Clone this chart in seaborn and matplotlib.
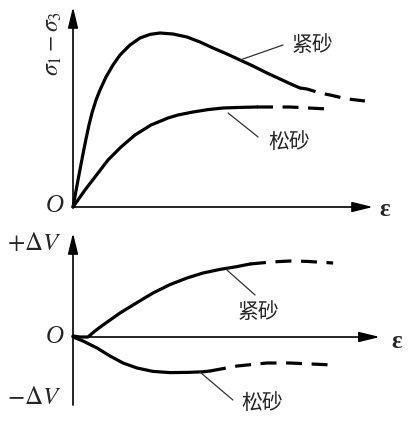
import pandas as pd
import seaborn as sns
import matplotlib
matplotlib.use("Agg")
import matplotlib.pyplot as plt

# strain axis (arbitrary units)
# top panel: deviator stress sigma1 - sigma3
dense_q_eps = [0, 0.167, 0.333, 0.433, 0.533, 0.633, 0.767, 0.9, 1.1, 1.333,
               1.567, 1.9, 2.233, 2.567, 2.9, 3.333, 3.8, 4.233, 4.667, 5.133,
               5.567, 6.0, 6.467, 6.9, 7.333, 7.567]
dense_q = [0, 1.35, 2.65, 3.4, 4.1, 4.7, 5.35, 5.85, 6.5, 7.1,
           7.6, 8.1, 8.45, 8.63, 8.7, 8.65, 8.5, 8.25, 7.95, 7.65,
           7.35, 7.05, 6.7, 6.4, 6.1, 5.95]
dense_q_eps_dash = [7.567, 7.8, 8.23, 8.57, 9.0, 9.17, 9.73]
dense_q_dash = [5.95, 5.9, 5.7, 5.6, 5.45, 5.4, 5.3]

loose_q_eps = [0, 0.4, 0.733, 1.167, 1.6, 2.067, 2.6, 3.167, 3.5, 4.0,
               4.5, 5.0, 5.567, 6.133]
loose_q = [0, 0.85, 1.5, 2.35, 3.0, 3.6, 4.1, 4.45, 4.6, 4.75,
           4.87, 4.95, 4.98, 5.0]
loose_q_eps_dash = [6.133, 7.23, 8.5]
loose_q_dash = [5.0, 5.0, 4.9]

# bottom panel: volume change
dense_v_eps = [0, 0.233, 0.5, 0.733, 1.0, 1.567, 2.133, 2.667, 3.233, 3.8,
               4.333, 4.9, 5.467, 5.9]
dense_v = [0.05, 0, 0, 0.3, 0.6, 1.2, 1.72, 2.2, 2.62, 2.95,
           3.2, 3.38, 3.52, 3.65]
dense_v_eps_dash = [5.9, 6.6, 7.23, 7.8, 8.67]
dense_v_dash = [3.65, 3.75, 3.8, 3.78, 3.7]

loose_v_eps = [0, 0.333, 0.8, 1.233, 1.667, 2.133, 2.667, 3.233, 3.8, 4.333,
               4.567]
loose_v = [0, -0.2, -0.55, -0.95, -1.3, -1.55, -1.72, -1.78, -1.77, -1.74,
           -1.7]
loose_v_eps_dash = [4.567, 5.47, 6.47, 7.23, 8.67]
loose_v_dash = [-1.7, -1.45, -1.3, -1.3, -1.4]

DENSE = "紧砂"
LOOSE = "松砂"

sns.set_theme(style="white")
plt.rcParams["mathtext.fontset"] = "stix"
plt.rcParams["font.family"] = ["Noto Sans CJK SC", "DejaVu Sans"]

LW = 2.3
DASH = (0, (5, 3))
ARROW = dict(arrowstyle="-|>,head_length=0.9,head_width=0.22",
             lw=1.2, color="black", mutation_scale=14, shrinkA=0, shrinkB=0)
LEADER = dict(arrowstyle="-", lw=0.9, color="#333333", shrinkA=0, shrinkB=0)


def curve(ax, x, y, ls="-"):
    df = pd.DataFrame({"eps": x, "val": y})
    sns.lineplot(data=df, x="eps", y="val", ax=ax, color="black", lw=LW,
                 sort=False, estimator=None, linestyle=ls, clip_on=False,
                 solid_joinstyle="round", solid_capstyle="round")


def arrow(ax, start, end):
    ax.annotate("", xy=end, xytext=start, arrowprops=ARROW,
                annotation_clip=False)


def leader(ax, start, end):
    ax.annotate("", xy=end, xytext=start, arrowprops=LEADER,
                annotation_clip=False)


fig = plt.figure(figsize=(4.09, 4.22), dpi=100)
ax1 = fig.add_axes([73 / 409, 215 / 422, 300 / 409, 200 / 422])
ax2 = fig.add_axes([73 / 409, 17 / 422, 300 / 409, 172 / 422])

# ---- top panel
curve(ax1, dense_q_eps, dense_q)
curve(ax1, dense_q_eps_dash, dense_q_dash, DASH)
curve(ax1, loose_q_eps, loose_q)
curve(ax1, loose_q_eps_dash, loose_q_dash, DASH)
ax1.set_xlim(0, 10)
ax1.set_ylim(0, 10)
arrow(ax1, (0, 0), (10, 0))
arrow(ax1, (0, 0), (0, 10))
leader(ax1, (7.0, 8.1), (5.57, 7.35))
leader(ax1, (6.17, 3.5), (5.17, 4.7))
ax1.text(7.97, 8.1, DENSE, fontsize=15, ha="center", va="center")
ax1.text(7.2, 3.25, LOOSE, fontsize=15, ha="center", va="center")
ax1.text(-0.6, 0.05, "O", family="Liberation Serif", style="italic",
         fontsize=18, ha="center", va="center")
ax1.text(10.4, -0.15, "ε", family="Liberation Serif", fontsize=18,
         weight="bold", ha="center", va="center")
ax1.text(-0.67, 8.2, r"$\sigma_1-\sigma_3$", fontsize=17, rotation=90,
         ha="center", va="center")

# ---- bottom panel
curve(ax2, dense_v_eps, dense_v)
curve(ax2, dense_v_eps_dash, dense_v_dash, DASH)
curve(ax2, loose_v_eps, loose_v)
curve(ax2, loose_v_eps_dash, loose_v_dash, DASH)
ax2.set_xlim(0, 10)
ax2.set_ylim(-3.4, 5.2)
arrow(ax2, (0, 0), (10.23, 0))
arrow(ax2, (0, -3.4), (0, 5.2))
leader(ax2, (6.07, 2.1), (5.13, 3.35))
leader(ax2, (5.33, -3.15), (4.23, -1.75))
ax2.text(6.17, 1.25, DENSE, fontsize=15, ha="center", va="center")
ax2.text(6.3, -3.3, LOOSE, fontsize=15, ha="center", va="center")
ax2.text(-0.6, 0.0, "O", family="Liberation Serif", style="italic",
         fontsize=18, ha="center", va="center")
ax2.text(10.8, -0.2, "ε", family="Liberation Serif", fontsize=18,
         weight="bold", ha="center", va="center")
ax2.text(-1.3, 4.7, r"$+\Delta V$", fontsize=18, ha="center", va="center")
ax2.text(-1.3, -3.0, r"$-\Delta V$", fontsize=18, ha="center", va="center")

for ax in (ax1, ax2):
    ax.set_axis_off()
    leg = ax.get_legend()
    if leg is not None:
        leg.remove()

fig.savefig("out.png", dpi=100, facecolor="white")
